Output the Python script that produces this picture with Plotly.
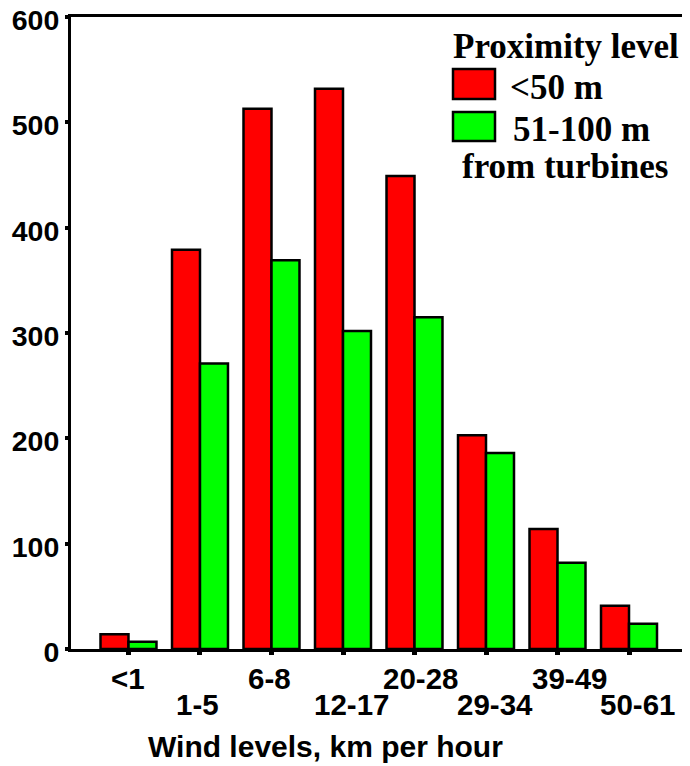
import plotly.graph_objects as go

categories = ["<1", "1-5", "6-8", "12-17", "20-28", "29-34", "39-49", "50-61"]
near = [14, 379, 513, 532, 449, 203, 114, 41]       # <50 m
far = [7, 271, 369, 302, 315, 186, 82, 24]          # 51-100 m
y_ticks = [0, 100, 200, 300, 400, 500, 600]
legend_title = "Proximity level"
legend_labels = ["<50 m", "51-100 m"]
legend_note = "from turbines"
x_title = "Wind levels, km per hour"

# label nudges (px) seen in the original layout
label_nudge = [0, -2, -2, 8, 6, 9, 12, 8]

# page body has an 8px margin, so work in window pixels and shift
OFF = 8
W, H = 690 - OFF, 766 - OFF
L, R, T, B = 71, 688, 17, 649   # plot area in window pixels

def px(x):
    return (x - L) / (R - L)

def py(y):
    return (B - y) / (B - T)

SANS = "Liberation Sans, Arial, sans-serif"
SERIF = "Liberation Serif, Times New Roman, serif"

fig = go.Figure()
fig.add_trace(go.Bar(x=categories, y=near, name=legend_labels[0],
                     marker=dict(color="#ff0000", line=dict(color="black", width=2.5)),
                     showlegend=False))
fig.add_trace(go.Bar(x=categories, y=far, name=legend_labels[1],
                     marker=dict(color="#00ff00", line=dict(color="black", width=2.5)),
                     showlegend=False))

annotations = []
# staggered category labels
for i, c in enumerate(categories):
    yy = 678 if i % 2 == 0 else 704
    annotations.append(dict(x=c, xref="x", y=py(yy), yref="paper", text=c,
                            xshift=label_nudge[i],
                            showarrow=False, xanchor="center", yanchor="middle",
                            font=dict(family=SANS, size=29.5, color="black", weight="bold")))

annotations.append(dict(x=px(325), xref="paper", y=py(746), yref="paper", text=x_title,
                        showarrow=False, xanchor="center", yanchor="middle",
                        font=dict(family=SANS, size=30, color="black", weight="bold")))

# hand-made legend
legend_font = dict(family=SERIF, size=35, color="black", weight="bold")
annotations.append(dict(x=px(566), xref="paper", y=py(46), yref="paper", text=legend_title,
                        showarrow=False, xanchor="center", yanchor="middle", font=legend_font))
annotations.append(dict(x=px(508), xref="paper", y=py(87), yref="paper", text=legend_labels[0],
                        showarrow=False, xanchor="left", yanchor="middle", font=legend_font))
annotations.append(dict(x=px(511), xref="paper", y=py(130), yref="paper", text=legend_labels[1],
                        showarrow=False, xanchor="left", yanchor="middle", font=legend_font))
annotations.append(dict(x=px(565), xref="paper", y=py(166), yref="paper", text=legend_note,
                        showarrow=False, xanchor="center", yanchor="middle", font=legend_font))

shapes = [
    dict(type="rect", xref="paper", yref="paper", x0=px(453), x1=px(495), y0=py(99), y1=py(69),
         fillcolor="#ff0000", line=dict(color="black", width=2.5)),
    dict(type="rect", xref="paper", yref="paper", x0=px(453), x1=px(495), y0=py(141), y1=py(112),
         fillcolor="#00ff00", line=dict(color="black", width=2.5)),
]

fig.update_layout(
    width=W, height=H,
    margin=dict(l=L - OFF, r=W - (R - OFF), t=T - OFF, b=H - (B - OFF), pad=0,
                autoexpand=False),
    paper_bgcolor="white", plot_bgcolor="white",
    barmode="group", bargap=0.217, bargroupgap=0,
    annotations=annotations, shapes=shapes,
    showlegend=False,
)
fig.update_xaxes(range=[-0.804, 7.825], showticklabels=False, automargin=False,
                 ticks="outside", ticklen=3, tickwidth=5, tickcolor="black",
                 showline=True, linecolor="black", linewidth=3, mirror=True,
                 showgrid=False, zeroline=False)
fig.update_yaxes(range=[0, 600], tickvals=y_ticks, ticklabeloverflow="allow",
                 automargin=False, ticklabelshift=3,
                 ticks="outside", ticklen=3, tickwidth=4, tickcolor="black",
                 tickfont=dict(family=SANS, size=28.5, color="black", weight="bold"),
                 showline=True, linecolor="black", linewidth=3, mirror=True,
                 showgrid=False, zeroline=False)

fig.write_html("out.html")
